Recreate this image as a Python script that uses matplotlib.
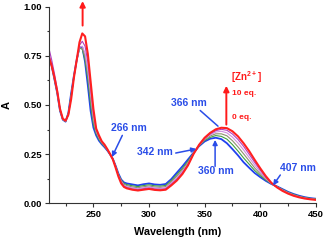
# UV-vis titration with Zn2+

import numpy as np
import matplotlib.pyplot as plt

plt.rcParams['font.family'] = ['Liberation Sans', 'DejaVu Sans']
plt.rcParams['font.weight'] = 'bold'
plt.rcParams['mathtext.fontset'] = 'custom'
plt.rcParams['mathtext.bf'] = 'Liberation Sans:bold'

# donnees (pas de 2.5 nm jusqu'a 280, puis 5 nm)
wl = list(np.arange(210, 280.1, 2.5)) + list(range(285, 455, 5))

A_0eq = [0.745, 0.700, 0.630, 0.560, 0.470, 0.425, 0.415, 0.460, 0.560, 0.650,
         0.730, 0.795, 0.795, 0.720, 0.600, 0.470, 0.385, 0.345, 0.318, 0.300,
         0.285, 0.268, 0.248, 0.225, 0.190, 0.150, 0.120, 0.105, 0.100,
         0.095, 0.090, 0.096, 0.100, 0.095,
         0.093, 0.097, 0.122, 0.155, 0.187, 0.222, 0.257, 0.290, 0.314, 0.328,
         0.333, 0.326, 0.305, 0.275, 0.243, 0.208, 0.180, 0.153, 0.132, 0.113,
         0.097, 0.085, 0.071, 0.057, 0.046, 0.037, 0.030, 0.025, 0.022]
A_2eq = [0.740, 0.700, 0.633, 0.562, 0.472, 0.426, 0.416, 0.457, 0.553, 0.648,
         0.728, 0.790, 0.785, 0.730, 0.630, 0.500, 0.400, 0.353, 0.324, 0.304,
         0.288, 0.270, 0.248, 0.224, 0.188, 0.146, 0.117, 0.100, 0.094,
         0.088, 0.084, 0.089, 0.093, 0.088,
         0.086, 0.090, 0.115, 0.145, 0.177, 0.214, 0.255, 0.292, 0.319, 0.335,
         0.344, 0.340, 0.326, 0.298, 0.265, 0.230, 0.198, 0.166, 0.140, 0.117,
         0.098, 0.084, 0.069, 0.055, 0.044, 0.035, 0.028, 0.024, 0.021]
A_4eq = [0.750, 0.700, 0.635, 0.565, 0.475, 0.427, 0.417, 0.455, 0.545, 0.646,
         0.726, 0.790, 0.790, 0.745, 0.655, 0.530, 0.420, 0.360, 0.330, 0.307,
         0.291, 0.271, 0.249, 0.224, 0.186, 0.143, 0.114, 0.095, 0.089,
         0.082, 0.078, 0.083, 0.087, 0.082,
         0.080, 0.084, 0.108, 0.137, 0.169, 0.207, 0.254, 0.293, 0.323, 0.342,
         0.353, 0.353, 0.343, 0.318, 0.286, 0.251, 0.215, 0.179, 0.149, 0.121,
         0.099, 0.083, 0.067, 0.053, 0.042, 0.033, 0.027, 0.022, 0.020]
A_6eq = [0.760, 0.710, 0.637, 0.567, 0.477, 0.428, 0.418, 0.453, 0.540, 0.644,
         0.726, 0.795, 0.800, 0.765, 0.680, 0.560, 0.440, 0.367, 0.335, 0.310,
         0.294, 0.273, 0.249, 0.223, 0.184, 0.140, 0.111, 0.090, 0.084,
         0.077, 0.073, 0.078, 0.082, 0.077,
         0.075, 0.078, 0.102, 0.129, 0.161, 0.201, 0.252, 0.294, 0.327, 0.348,
         0.362, 0.366, 0.358, 0.336, 0.306, 0.271, 0.232, 0.193, 0.158, 0.126,
         0.100, 0.082, 0.066, 0.052, 0.040, 0.032, 0.025, 0.021, 0.018]
A_8eq = [0.790, 0.730, 0.660, 0.580, 0.478, 0.429, 0.419, 0.451, 0.535, 0.642,
         0.728, 0.805, 0.825, 0.800, 0.720, 0.590, 0.460, 0.375, 0.340, 0.313,
         0.296, 0.274, 0.250, 0.223, 0.182, 0.138, 0.108, 0.086, 0.079,
         0.072, 0.068, 0.073, 0.077, 0.072,
         0.070, 0.073, 0.096, 0.122, 0.154, 0.196, 0.251, 0.296, 0.330, 0.353,
         0.369, 0.376, 0.371, 0.352, 0.324, 0.289, 0.249, 0.207, 0.168, 0.131,
         0.101, 0.081, 0.064, 0.050, 0.038, 0.030, 0.024, 0.020, 0.017]
A_10eq = [0.745, 0.700, 0.640, 0.570, 0.480, 0.430, 0.420, 0.450, 0.530, 0.640,
          0.730, 0.820, 0.865, 0.850, 0.760, 0.620, 0.480, 0.380, 0.345, 0.315,
          0.298, 0.275, 0.250, 0.222, 0.180, 0.135, 0.100, 0.082, 0.075,
          0.068, 0.064, 0.068, 0.072, 0.067,
          0.065, 0.068, 0.090, 0.115, 0.148, 0.192, 0.250, 0.297, 0.333, 0.358,
          0.376, 0.384, 0.382, 0.366, 0.340, 0.305, 0.265, 0.220, 0.177, 0.137,
          0.103, 0.080, 0.062, 0.048, 0.037, 0.029, 0.023, 0.019, 0.016]

series = [A_0eq, A_2eq, A_4eq, A_6eq, A_8eq, A_10eq]
colors = ['#2040f0', '#40a040', '#909070', '#d090e0', '#b040c0', '#ff2020']
widths = [1.3, 0.8, 0.8, 0.8, 0.8, 1.5]

blue = '#2a4de8'
red = '#ff1a1a'

fig = plt.figure(figsize=(3.26, 2.40), dpi=100)
ax = fig.add_axes([0.150, 0.154, 0.819, 0.817])

for s, c, w in zip(series, colors, widths):
    ax.plot(wl, s, color=c, lw=w)

ax.set_xlim(210, 450)
ax.set_ylim(0, 1.0)
ax.set_xticks([250, 300, 350, 400, 450])
ax.set_xticks([225, 275, 325, 375, 425], minor=True)
ax.set_yticks([0, 0.25, 0.5, 0.75, 1.0])
ax.set_yticks([0.125, 0.375, 0.625, 0.875], minor=True)
ax.set_yticklabels(['0.00', '0.25', '0.50', '0.75', '1.00'])
ax.tick_params(which='major', length=3, width=0.8, labelsize=6.8, pad=2, color='#333333')
ax.tick_params(which='minor', length=1.8, width=0.8, color='#333333')
for lab in ax.get_xticklabels() + ax.get_yticklabels():
    lab.set_fontweight('bold')
ax.spines['top'].set_visible(False)
ax.spines['right'].set_visible(False)
ax.spines['left'].set_color('#333333')
ax.spines['bottom'].set_color('#333333')
ax.set_xlabel('Wavelength (nm)', fontsize=7.8, fontweight='bold')
ax.xaxis.set_label_coords(0.483, -0.12)
ax.set_ylabel('A', fontsize=8, fontweight='bold')
ax.yaxis.set_label_coords(-0.14, 0.5)

fl = dict(arrowstyle='-|>', color=blue, lw=1.1, mutation_scale=7, shrinkA=0, shrinkB=0)
kw = dict(color=blue, fontsize=7.5, fontweight='bold', ha='center', va='center')

# fleches bleues
ax.annotate('', xy=(266.7, 0.235), xytext=(276, 0.345), arrowprops=fl)
ax.text(282, 0.383, '266 nm', **kw)

ax.annotate('', xy=(342.5, 0.276), xytext=(324, 0.255), arrowprops=fl)
ax.text(305, 0.258, '342 nm', **kw)

ax.annotate('', xy=(359.4, 0.322), xytext=(359.4, 0.187), arrowprops=fl)
ax.text(360, 0.163, '360 nm', **kw)

ax.annotate('', xy=(411.5, 0.09), xytext=(418, 0.143), arrowprops=fl)
ax.text(433.5, 0.179, '407 nm', **kw)

ax.annotate('', xy=(362, 0.392), xytext=(346, 0.472),
            arrowprops=dict(arrowstyle='-', color=blue, lw=1.1, shrinkA=0, shrinkB=0))
ax.text(336, 0.51, '366 nm', **kw)

# fleches rouges
fr = dict(arrowstyle='-|>', color=red, lw=1.4, mutation_scale=8, shrinkA=0, shrinkB=0)
ax.annotate('', xy=(240.3, 1.03), xytext=(240.3, 0.905), annotation_clip=False,
            arrowprops=fr)
ax.annotate('', xy=(369.5, 0.598), xytext=(369.5, 0.40), arrowprops=fr)
ax.text(388, 0.64, r'[Zn$^{\mathbf{2+}}$]', color=red, fontsize=7, fontweight='bold',
        ha='center', va='center')
ax.text(375, 0.559, '10 eq.', color=red, fontsize=6, fontweight='bold',
        ha='left', va='center')
ax.text(375, 0.434, '0 eq.', color=red, fontsize=6, fontweight='bold',
        ha='left', va='center')

plt.savefig('out.png', dpi=100)
